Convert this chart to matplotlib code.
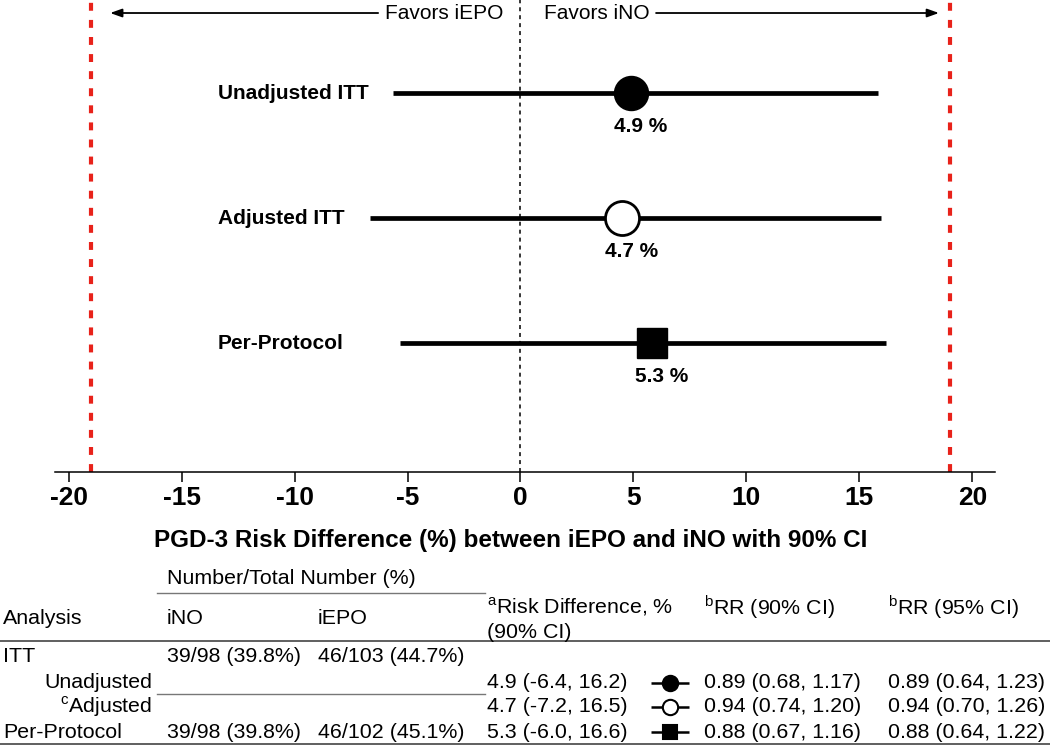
import matplotlib
matplotlib.use('Agg')
import matplotlib.pyplot as plt

plt.rcParams['font.family'] = ['Liberation Sans', 'DejaVu Sans']
plt.rcParams['mathtext.fontset'] = 'custom'
plt.rcParams['mathtext.rm'] = 'Liberation Sans'
plt.rcParams['axes.unicode_minus'] = False

# forest plot data
analyses = ['Unadjusted ITT', 'Adjusted ITT', 'Per-Protocol']
point_est = [4.87, 4.5, 5.8]
ci_low = [-5.65, -6.67, -5.31]
ci_high = [15.82, 15.94, 16.16]
est_labels = ['4.9 %', '4.7 %', '5.3 %']
margin = 19

# table data
tbl_rows = ['ITT', 'Unadjusted', r'$^{\mathrm{c}}$Adjusted', 'Per-Protocol']
ino = ['39/98 (39.8%)', '', '', '39/98 (39.8%)']
iepo = ['46/103 (44.7%)', '', '', '46/102 (45.1%)']
rd_ci = ['', '4.9 (-6.4, 16.2)', '4.7 (-7.2, 16.5)', '5.3 (-6.0, 16.6)']
rr90 = ['', '0.89 (0.68, 1.17)', '0.94 (0.74, 1.20)', '0.88 (0.67, 1.16)']
rr95 = ['', '0.89 (0.64, 1.23)', '0.94 (0.70, 1.26)', '0.88 (0.64, 1.22)']

W, H = 1050, 745
fig = plt.figure(figsize=(W / 100, H / 100), dpi=100)

ax = fig.add_axes([55 / W, 1 - 472 / H, 940 / W, 472 / H])
ax.set_xlim(-20.6, 21.0)
ax.set_ylim(-0.03, 3.744)
ypos = [3, 2, 1]

styles = [dict(marker='o', ms=24.5, mfc='black', mec='black'),
          dict(marker='o', ms=24.5, mfc='white', mec='black', mew=2),
          dict(marker='s', ms=21, mfc='black', mec='black')]

for y, lo, hi, est, lab, name, st in zip(ypos, ci_low, ci_high, point_est,
                                         est_labels, analyses, styles):
    ax.plot([lo, hi], [y, y], color='black', lw=3.4, solid_capstyle='butt', zorder=2)
    ax.plot([est], [y], ls='none', zorder=3, **st)
    ax.annotate(lab, (est, y), xytext=(7, -24), textcoords='offset points',
                ha='center', va='center', fontsize=15, fontweight='bold')
    ax.text(-13.4, y, name, ha='left', va='center', fontsize=15, fontweight='bold')

ax.axvline(0, color='black', lw=1.1, dashes=(2.6, 2.6), zorder=1)
for m in (-margin, margin):
    ax.axvline(m, color='#e8221a', lw=3, dashes=(1.9, 2.2), zorder=1)

# favors arrows
ya = 3.64
arrow = dict(arrowstyle='-|>,head_length=0.7,head_width=0.25', lw=1.3,
             color='black', shrinkA=0, shrinkB=0)
ax.annotate('', xy=(-18.16, ya), xytext=(-6.3, ya), arrowprops=arrow)
ax.annotate('', xy=(18.52, ya), xytext=(6.0, ya), arrowprops=arrow)
ax.text(-0.77, ya, 'Favors iEPO', ha='right', va='center', fontsize=15)
ax.text(1.05, ya, 'Favors iNO', ha='left', va='center', fontsize=15)

for s in ('top', 'left', 'right'):
    ax.spines[s].set_visible(False)
ax.spines['bottom'].set_linewidth(1.1)
ax.set_yticks([])
ax.set_xticks(range(-20, 21, 5))
ax.tick_params(axis='x', length=7, width=1.1, pad=3, labelsize=19)
for t in ax.get_xticklabels():
    t.set_fontweight('bold')

fig.text(511 / W, 1 - 540 / H,
         'PGD-3 Risk Difference (%) between iEPO and iNO with 90% CI',
         ha='center', va='center', fontsize=17.5, fontweight='bold')

# table drawn in pixel coordinates
tab = fig.add_axes([0, 0, 1, 1])
tab.set_xlim(0, W)
tab.set_ylim(H, 0)
tab.axis('off')
fs = 15.4

tab.text(167, 579, 'Number/Total Number (%)', va='center', fontsize=fs)
tab.plot([157, 485], [592.5, 592.5], color='#777777', lw=1)
tab.text(3, 618, 'Analysis', va='center', fontsize=fs)
tab.text(167, 618, 'iNO', va='center', fontsize=fs)
tab.text(318, 618, 'iEPO', va='center', fontsize=fs)
tab.text(487, 607, r'$^{\mathrm{a}}$Risk Difference, %', va='center', fontsize=fs)
tab.text(487, 632, '(90% CI)', va='center', fontsize=fs)
tab.text(704, 607, r'$^{\mathrm{b}}$RR (90% CI)', va='center', fontsize=fs)
tab.text(888, 607, r'$^{\mathrm{b}}$RR (95% CI)', va='center', fontsize=fs)
tab.plot([0, W], [641, 641], color='#444444', lw=1.2)

row_y = [657, 683, 707, 732]
for i, y in enumerate(row_y):
    if i in (1, 2):
        tab.text(152, y, tbl_rows[i], ha='right', va='center', fontsize=fs)
    else:
        tab.text(3, y, tbl_rows[i], ha='left', va='center', fontsize=fs)
    tab.text(167, y, ino[i], va='center', fontsize=fs)
    tab.text(318, y, iepo[i], va='center', fontsize=fs)
    tab.text(487, y, rd_ci[i], va='center', fontsize=fs)
    tab.text(704, y, rr90[i], va='center', fontsize=fs)
    tab.text(888, y, rr95[i], va='center', fontsize=fs)
    if i > 0:
        st = dict(styles[i - 1])
        st['ms'] = st['ms'] * 0.45
        st['mew'] = 1.5
        tab.plot([651, 689], [y, y], color='black', lw=1.8, solid_capstyle='butt')
        tab.plot([670], [y], ls='none', **st)
tab.plot([157, 485], [694, 694], color='#777777', lw=1)
tab.plot([0, W], [743.5, 743.5], color='#444444', lw=1.2)

fig.savefig('out.png', dpi=100)
